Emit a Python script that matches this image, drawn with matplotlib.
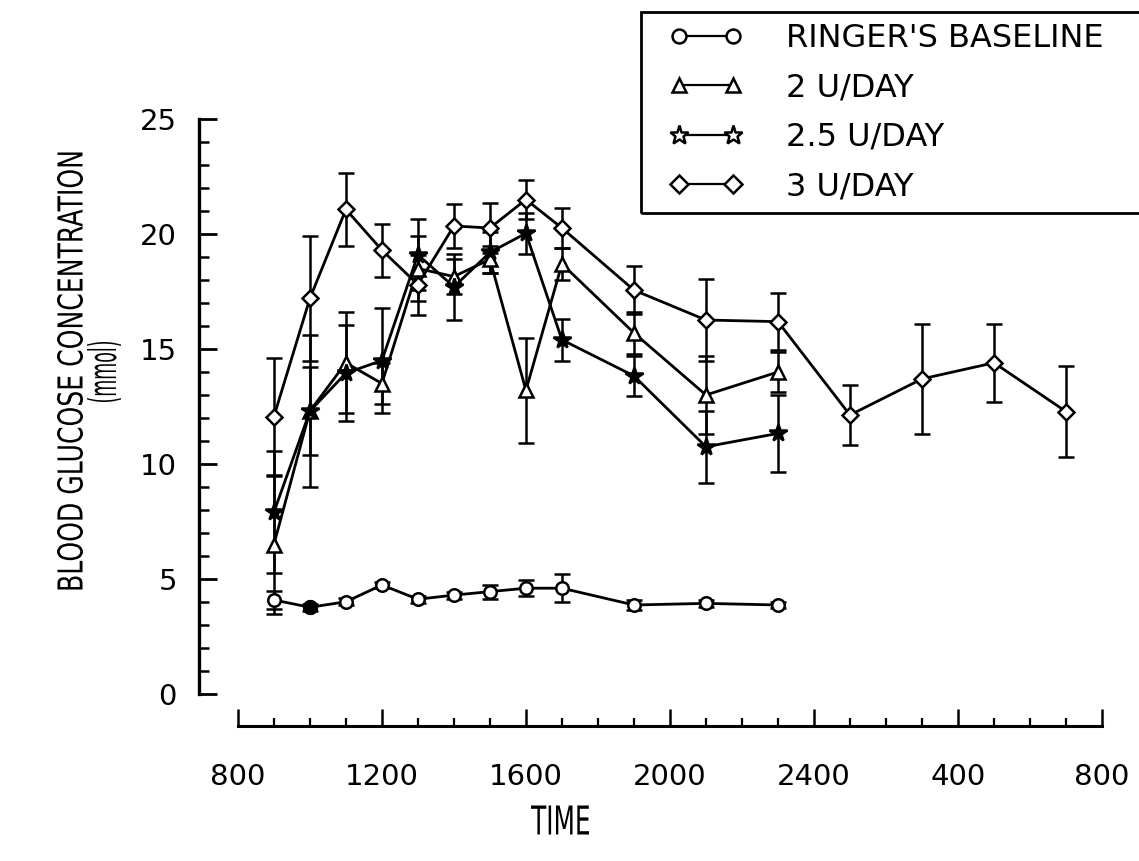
import numpy as np
import matplotlib.pyplot as plt
from matplotlib.lines import Line2D
from matplotlib.patches import PathPatch, Rectangle
from matplotlib.textpath import TextPath
from matplotlib.transforms import Affine2D, IdentityTransform
from matplotlib.font_manager import FontProperties

# sampling times (24 h clock, second day continues past 2400)
times = [900, 1000, 1100, 1200, 1300, 1400, 1500, 1600, 1700, 1900, 2100, 2300]
times_3u = times + [2500, 2700, 2900, 3100]

baseline = [4.09, 3.77, 4.01, 4.74, 4.12, 4.30, 4.45, 4.60, 4.60, 3.87, 3.94, 3.87]
baseline_err = [0.4, 0.15, 0.15, 0.15, 0.15, 0.15, 0.3, 0.35, 0.6, 0.2, 0.15, 0.15]

u2 = [6.5, 12.3, 14.4, 13.5, 18.5, 18.15, 18.9, 13.2, 18.7, 15.7, 13.0, 14.0]
u2_err = [3.0, 3.3, 2.2, 0.9, 1.4, 0.75, 0.6, 2.3, 0.7, 0.9, 1.7, 0.87]

u25 = [7.9, 12.3, 13.95, 14.5, 19.1, 17.7, 19.2, 20.03, 15.4, 13.83, 10.75, 11.33]
u25_err = [2.65, 1.9, 2.1, 2.3, 1.55, 1.45, 0.9, 0.9, 0.9, 0.87, 1.56, 1.67]

u3 = [12.06, 17.2, 21.07, 19.3, 17.8, 20.35, 20.26, 21.5, 20.26, 17.56, 16.26, 16.19,
      12.13, 13.7, 14.4, 12.28]
u3_err = [2.55, 2.7, 1.6, 1.15, 1.3, 0.95, 1.1, 0.85, 0.85, 1.05, 1.78, 1.24,
          1.3, 2.4, 1.7, 1.96]

xtick_pos = [800, 1200, 1600, 2000, 2400, 2800, 3200]
xtick_labels = ['800', '1200', '1600', '2000', '2400', '400', '800']
labels = ["RINGER'S BASELINE", '2 U/DAY', '2.5 U/DAY', '3 U/DAY']

W, H = 1139, 861
plt.rcParams['font.family'] = ['DejaVu Sans']


def narrow_text(fig, s, cx, cy, length, height, rotate=False):
    # the original axis titles use a condensed face; squeeze DejaVu to fit
    tp = TextPath((0, 0), s, size=50, prop=FontProperties(family='DejaVu Sans'))
    bb = tp.get_extents()
    t = Affine2D().translate(-(bb.x0 + bb.width / 2), -(bb.y0 + bb.height / 2))
    t.scale(length / bb.width, height / bb.height)
    if rotate:
        t.rotate_deg(90)
    t.translate(cx, H - cy)
    fig.add_artist(PathPatch(t.transform_path(tp), facecolor='black',
                             edgecolor='none', transform=IdentityTransform()))


fig = plt.figure(figsize=(W / 100, H / 100), dpi=100)
ax = fig.add_axes([199 / W, 1 - 694 / H, 903 / W, 575 / H])

common = dict(color='black', lw=2.0, elinewidth=1.8, capsize=6, capthick=2.4,
              mec='black', mew=1.8)

ax.errorbar(times, baseline, yerr=baseline_err, fmt='-o', ms=9, mfc='white', **common)
# the 1000 h baseline point is drawn filled
ax.plot(times[1], baseline[1], 'o', ms=10, color='black', zorder=5)
ax.errorbar(times, u2, yerr=u2_err, fmt='-^', ms=10, mfc='white', **common)
ax.errorbar(times, u25, yerr=u25_err, fmt='-*', ms=13, mfc='black', **common)
ax.errorbar(times_3u, u3, yerr=u3_err, fmt='-D', ms=8, mfc='white', **common)

ax.set_xlim(692, 3200)
ax.set_ylim(0, 25)

for s in ['top', 'right']:
    ax.spines[s].set_visible(False)
ax.spines['left'].set_linewidth(2.4)
ax.spines['bottom'].set_linewidth(2.2)
ax.spines['bottom'].set_position(('outward', 23))
ax.spines['bottom'].set_bounds(800, 3200)

ax.set_yticks(np.arange(0, 26, 5))
ax.set_yticks(np.arange(0, 26, 1), minor=True)
ax.set_xticks(xtick_pos)
ax.set_xticklabels(xtick_labels)
ax.set_xticks(np.arange(800, 3201, 100), minor=True)

ax.tick_params(axis='both', which='both', direction='in', color='black', labelsize=21)
ax.tick_params(axis='y', which='major', length=13, width=2.0, pad=16)
ax.tick_params(axis='y', which='minor', length=7, width=1.8)
ax.tick_params(axis='x', which='major', length=12, width=1.8, pad=27)
ax.tick_params(axis='x', which='minor', length=6, width=1.6)

narrow_text(fig, 'BLOOD GLUCOSE CONCENTRATION', 70, 371, 437, 26, rotate=True)
narrow_text(fig, '(mmol)', 104, 372, 60, 34, rotate=True)
narrow_text(fig, 'TIME', 560, 820, 58, 29)

handles = [Line2D([], [], color='black', lw=1.6, marker=m, ms=s, mfc='white',
                  mec='black', mew=1.8)
           for m, s in [('o', 10), ('^', 10), ('*', 14), ('D', 9)]]
leg = fig.legend(handles, labels, loc='upper left',
                 bbox_to_anchor=(663 / W, 1 - 17 / H), borderaxespad=0,
                 fontsize=23, numpoints=2, handlelength=2.3, handletextpad=1.35,
                 labelspacing=0.57, borderpad=0.2, frameon=False)
fig.add_artist(Rectangle((641 / W, 1 - 213 / H), 520 / W, 201 / H, fill=False,
                         edgecolor='black', lw=2.0, transform=fig.transFigure))

fig.savefig('out.png', dpi=100)
